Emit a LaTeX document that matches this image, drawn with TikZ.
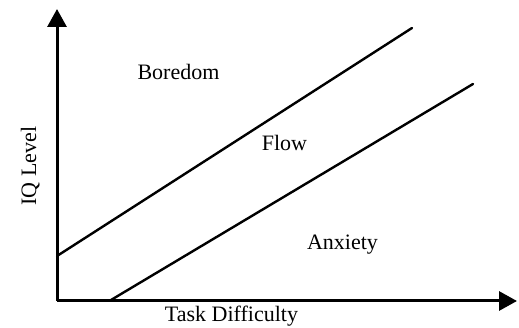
\documentclass[tikz,border=0pt]{standalone}
\usepackage{fontspec}
\setmainfont{Liberation Serif}
\usetikzlibrary{arrows.meta}
\begin{document}
\begin{tikzpicture}[x=1pt,y=-1pt,
  axis/.style={line width=3pt,-{Triangle[length=18pt,width=19pt]}},
  zone/.style={line width=2.4pt,line cap=round},
  lbl/.style={font=\fontsize{22}{24}\selectfont,anchor=base,inner sep=0pt}]
\useasboundingbox (0,0) rectangle (519,328);
\coordinate (o) at (57,301);
\coordinate (ytop) at (57,9);
\coordinate (xend) at (517,301);
\draw[axis] (o) -- (ytop);
\draw[axis] (o) -- (xend);
\coordinate (a1) at (57,256);
\coordinate (a2) at (412,28);
\coordinate (b1) at (111,300);
\coordinate (b2) at (473,84);
\draw[zone] (a1) -- (a2);
\draw[zone] (b1) -- (b2);
\node[lbl] (bor) at (178.5,80) {Boredom};
\node[lbl] (flow) at (284.5,151) {Flow};
\node[lbl] (anx) at (342.5,250) {Anxiety};
\node[lbl] (task) at (231.5,322) {Task Difficulty};
\node[lbl,rotate=90] (iq) at (36,166) {IQ Level};
\end{tikzpicture}
\end{document}
